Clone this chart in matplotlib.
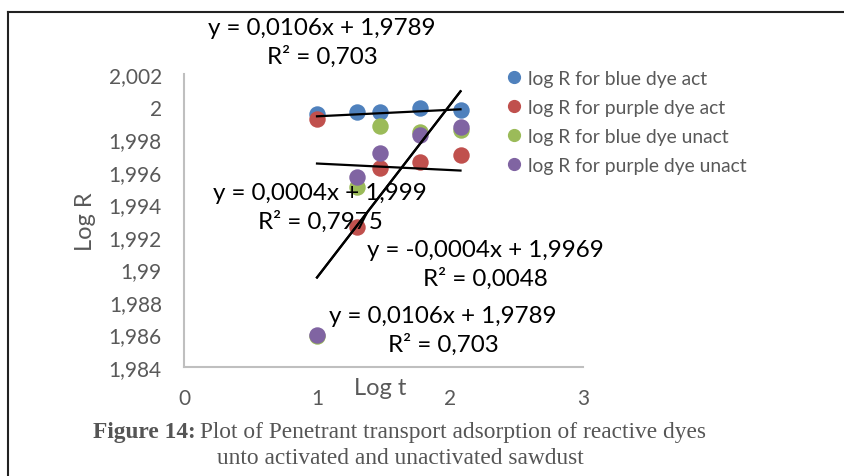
import matplotlib.pyplot as plt
from matplotlib.lines import Line2D

plt.rcParams['font.family'] = ['Lato', 'DejaVu Sans']

# data
log_t = [1.0, 1.301, 1.477, 1.778, 2.079]
blue_act = [1.99955, 1.99965, 1.99965, 1.99989, 1.99981]
purple_act = [1.99924, 1.99259, 1.99621, 1.99662, 1.99703]
blue_unact = [1.98592, 1.99504, 1.99883, 1.99845, 1.99858]
purple_unact = [1.98598, 1.99566, 1.99715, 1.99825, 1.99873]
series_names = ['log R for blue dye act', 'log R for purple dye act',
                'log R for blue dye unact', 'log R for purple dye unact']
colors = ['#4F81BD', '#C0504D', '#9BBB59', '#8064A2']

# trendline coefficients (slope, intercept) from the equation labels
trend_coef = [(0.0004, 1.999), (-0.0004, 1.9969), (0.0106, 1.9789), (0.0106, 1.9789)]
eq_labels = ['y = 0,0004x + 1,999\nR² = 0,7975',
             'y = -0,0004x + 1,9969\nR² = 0,0048',
             'y = 0,0106x + 1,9789\nR² = 0,703',
             'y = 0,0106x + 1,9789\nR² = 0,703']

y_ticks = [1.984, 1.986, 1.988, 1.99, 1.992, 1.994, 1.996, 1.998, 2.0, 2.002]
y_tick_labels = ['1,984', '1,986', '1,988', '1,99', '1,992', '1,994', '1,996', '1,998', '2', '2,002']
x_ticks = [0, 1, 2, 3]

W, H = 844, 477
fig = plt.figure(figsize=(W / 100, H / 100), dpi=100)
ax = fig.add_axes([184 / W, 1 - 368 / H, 399 / W, 293 / H])

all_series = [blue_act, purple_act, blue_unact, purple_unact]
for vals, c, name in zip(all_series, colors, series_names):
    ax.scatter(log_t, vals, s=140, color=c, label=name, zorder=3, linewidths=0)

xs = [min(log_t), max(log_t)]
for m, b in trend_coef:
    ax.plot(xs, [m * x + b for x in xs], color='black', lw=1.6, zorder=4)

ax.set_xlim(0, 3)
ax.set_ylim(1.984, 2.002)
ax.set_xticks(x_ticks)
ax.set_xticklabels([str(t) for t in x_ticks])
ax.set_yticks(y_ticks)
ax.set_yticklabels(y_tick_labels)
ax.tick_params(length=0, labelsize=15, labelcolor='#595959')
ax.tick_params(axis='y', pad=16)
ax.tick_params(axis='x', pad=15)
for s in ['top', 'right']:
    ax.spines[s].set_visible(False)
for s in ['left', 'bottom']:
    ax.spines[s].set_color('#BFBFBF')
    ax.spines[s].set_linewidth(1.5)

# equation labels (pixel positions of their centres)
eq_pos = [(320, 208), (485, 265), (322, 43), (443, 331)]
for (px, py), txt in zip(eq_pos, eq_labels):
    fig.text(px / W, 1 - py / H, txt, ha='center', va='center', fontsize=17.4,
             linespacing=1.4, color='black')

fig.text(86 / W, 1 - 222 / H, 'Log R', rotation=90, ha='center', va='center',
         fontsize=17, color='#595959')
fig.text(380 / W, 1 - 389 / H, 'Log t', ha='center', va='center',
         fontsize=17, color='#595959')

handles = [Line2D([], [], marker='o', ls='', color=c, markersize=8.5) for c in colors]
fig.legend(handles, series_names, loc='upper left', bbox_to_anchor=(496 / W, 1 - 63 / H),
           frameon=False, fontsize=13.9, handletextpad=0.15, labelspacing=0.63,
           handlelength=1.1, labelcolor='#595959', borderaxespad=0)

# caption
cap_kw = dict(va='center', family='Liberation Serif', fontsize=16.8, color='#555555')
bold = fig.text(93 / W, 1 - 433 / H, 'Figure 14:', ha='left', fontweight='bold', **cap_kw)
fig.canvas.draw()
bb = bold.get_window_extent()
fig.text((bb.x1 + 4) / W, 1 - 433 / H, 'Plot of Penetrant transport adsorption of reactive dyes',
         ha='left', **cap_kw)
fig.text(400 / W, 1 - 459 / H, 'unto activated and unactivated sawdust', ha='center', **cap_kw)

# frame lines of the page box
fig.add_artist(Line2D([8 / W, 1], [1 - 13 / H, 1 - 13 / H], color='#222222', lw=1.5))
fig.add_artist(Line2D([8 / W, 8 / W], [0, 1 - 13 / H], color='#222222', lw=1.5))

fig.savefig('out.png', dpi=100)
